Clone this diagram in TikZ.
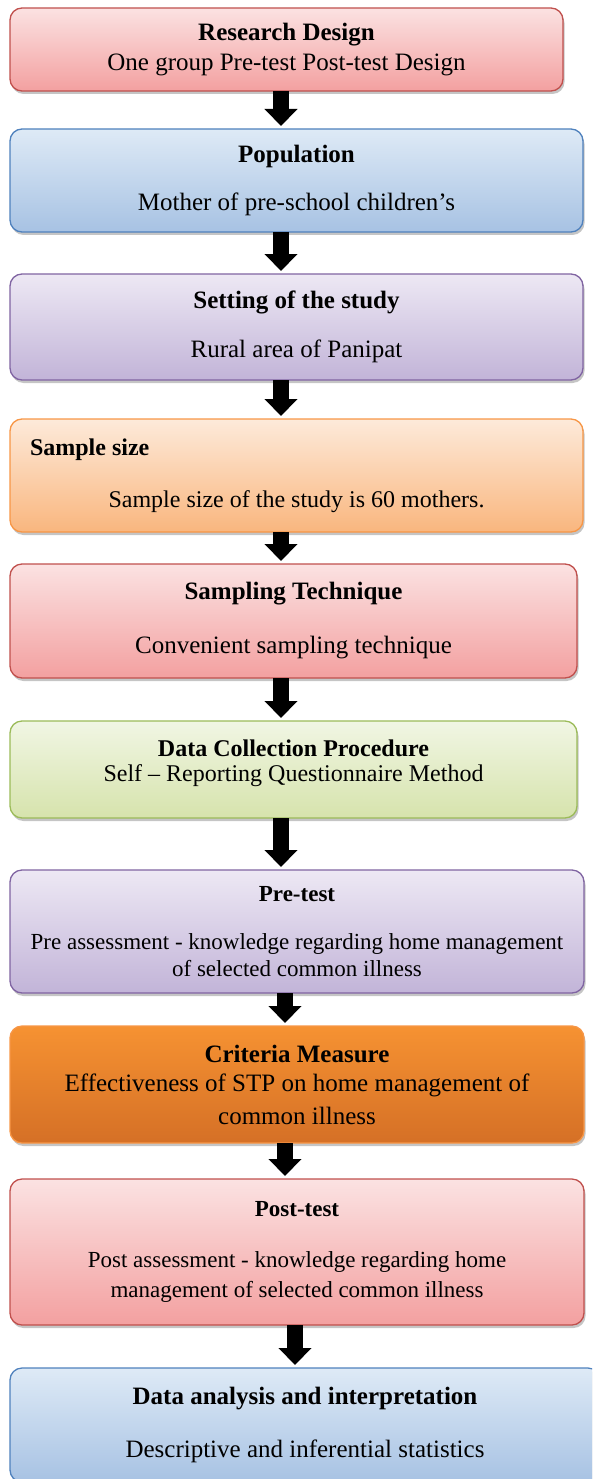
\documentclass[tikz,border=0pt]{standalone}
\usepackage{fontspec}
\setmainfont{Liberation Serif}
\usepackage{tikz}
\usetikzlibrary{arrows.meta,shapes,positioning,shadows}
\definecolor{rdtop}{RGB}{251,226,226}
\definecolor{rdbot}{RGB}{243,160,160}
\definecolor{rdline}{RGB}{192,80,77}
\definecolor{blutop}{RGB}{222,234,246}
\definecolor{blubot}{RGB}{167,194,227}
\definecolor{bluline}{RGB}{79,129,189}
\definecolor{purtop}{RGB}{237,232,244}
\definecolor{purbot}{RGB}{194,180,216}
\definecolor{purline}{RGB}{128,100,162}
\definecolor{ortop}{RGB}{253,234,218}
\definecolor{orbot}{RGB}{249,182,126}
\definecolor{orline}{RGB}{247,150,70}
\definecolor{grtop}{RGB}{241,246,228}
\definecolor{grbot}{RGB}{214,227,172}
\definecolor{grline}{RGB}{155,187,89}
\definecolor{crtop}{RGB}{246,146,50}
\definecolor{crbot}{RGB}{213,112,38}
\tikzstyle{stage} = [rectangle, rounded corners=12pt, outer sep=0pt, inner sep=4pt, align=center, line width=1.3pt, drop shadow={shadow xshift=1.5pt, shadow yshift=-3pt, fill=black!45}, font=\fontsize{25}{29}\selectfont]
\tikzstyle{smalltext} = [font=\fontsize{23}{27}\selectfont]
\tikzstyle{midtext} = [font=\fontsize{24}{28}\selectfont]
\tikzstyle{redbox} = [stage, draw=rdline, top color=rdtop, bottom color=rdbot]
\tikzstyle{bluebox} = [stage, draw=bluline, top color=blutop, bottom color=blubot]
\tikzstyle{purplebox} = [stage, draw=purline, top color=purtop, bottom color=purbot]
\tikzstyle{orangebox} = [stage, draw=orline, top color=ortop, bottom color=orbot]
\tikzstyle{greenbox} = [stage, draw=grline, top color=grtop, bottom color=grbot]
\tikzstyle{critbox} = [stage, draw=orline, top color=crtop, bottom color=crbot]
\tikzstyle{arrow} = [line width=16pt, -{Triangle[length=17pt,width=32pt]}, shorten >=3pt, color=black]

\begin{document}
\begin{tikzpicture}[x=1pt, y=1pt]
\useasboundingbox (0,0) rectangle (592,-1479);
\clip (0,0) rectangle (592,-1479);

% Design and population
\node (b1) [redbox, anchor=north west, minimum width=553pt, minimum height=83pt] at (10,-8)
  {\textbf{Research Design}\\[1pt]One group Pre-test Post-test Design};
\node (b2) [bluebox, below right=38pt and 0pt of b1.south west, minimum width=573pt, minimum height=103pt]
  {\textbf{Population}\\[19pt]Mother of pre-school children’s};
\node (b3) [purplebox, below right=42pt and 0pt of b2.south west, minimum width=573pt, minimum height=106pt]
  {\textbf{Setting of the study}\\[20pt]Rural area of Panipat};
\node (b4) [orangebox, midtext, below right=39pt and 0pt of b3.south west, minimum width=573pt, minimum height=113pt]
  {\makebox[533pt][l]{\textbf{Sample size}}\\[24pt]Sample size of the study is 60 mothers.};
\node (b5) [redbox, below right=32pt and 0pt of b4.south west, minimum width=567pt, minimum height=114pt]
  {\textbf{Sampling Technique}\\[25pt]Convenient sampling technique};
\node (b6) [greenbox, midtext, below right=43pt and 0pt of b5.south west, minimum width=567pt, minimum height=97pt]
  {\textbf{Data Collection Procedure}\\[-3pt]Self – Reporting Questionnaire Method\\[-10pt]\mbox{}};

% Testing and analysis
\node (b7) [purplebox, smalltext, below right=52pt and 0pt of b6.south west, minimum width=574pt, minimum height=123pt]
  {\textbf{Pre-test}\\[21pt]Pre assessment - knowledge regarding home management\\of selected common illness};
\node (b8) [critbox, below right=33pt and 0pt of b7.south west, minimum width=574pt, minimum height=117pt]
  {\textbf{Criteria Measure}\\[0pt]Effectiveness of STP on home management of\\[4pt]common illness};
\node (b9) [redbox, smalltext, below right=36pt and 0pt of b8.south west, minimum width=574pt, minimum height=146pt]
  {\textbf{Post-test}\\[24pt]Post assessment - knowledge regarding home\\[3pt]management of selected common illness};
\node (b10) [bluebox, below right=43pt and 0pt of b9.south west, minimum width=590pt, minimum height=114pt]
  {\textbf{Data analysis and interpretation}\\[24pt]Descriptive and inferential statistics};

% Flow arrows
\foreach \a/\b/\dx in {b1/b2/271, b2/b3/271, b3/b4/271, b4/b5/271, b5/b6/271, b6/b7/271, b7/b8/275, b8/b9/275, b9/b10/285}
  \draw[arrow] ([xshift=\dx pt]\a.south west) -- ([xshift=\dx pt]\b.north west);
\end{tikzpicture}
\end{document}
